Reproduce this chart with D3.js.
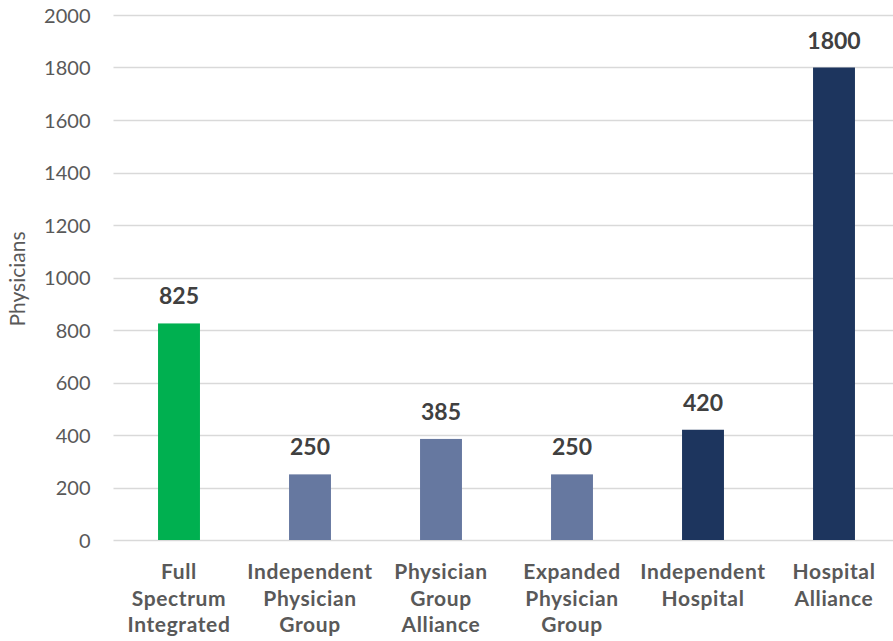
<!DOCTYPE html>
<html>
<head>
<meta charset="utf-8">
<script src="https://cdn.jsdelivr.net/npm/d3@7/dist/d3.min.js"></script>
<style>
  html, body { margin: 0; padding: 0; background: #ffffff; }
  svg { display: block; font-family: Lato, "Open Sans", sans-serif; }
</style>
</head>
<body>
<svg id="chart" width="893" height="641"></svg>
<script>
// Physicians per organisation model
const categories = [
  ["Full", "Spectrum", "Integrated"],
  ["Independent", "Physician", "Group"],
  ["Physician", "Group", "Alliance"],
  ["Expanded", "Physician", "Group"],
  ["Independent", "Hospital"],
  ["Hospital", "Alliance"]
];
const physicians = [825, 250, 385, 250, 420, 1800];
const barColors = ["#00B050", "#6678A0", "#6678A0", "#6678A0", "#1D355E", "#1D355E"];
const yTicks = [0, 200, 400, 600, 800, 1000, 1200, 1400, 1600, 1800, 2000];

const svg = d3.select("#chart");
const plotLeft = 113.5, plotRight = 899.5, plotTop = 15, plotBottom = 540;

const x = d3.scaleBand()
  .domain(d3.range(categories.length))
  .range([plotLeft, plotRight])
  .paddingInner(0.68)
  .paddingOuter(0.34);

const y = d3.scaleLinear().domain([0, 2000]).range([plotBottom, plotTop]);

// gridlines
svg.append("g")
  .selectAll("line")
  .data(yTicks)
  .join("line")
  .attr("x1", plotLeft)
  .attr("x2", plotRight)
  .attr("y1", d => Math.round(y(d)) + 0.5)
  .attr("y2", d => Math.round(y(d)) + 0.5)
  .attr("stroke", "#D9D9D9")
  .attr("stroke-width", 1.5);

// y axis labels
const yAxis = d3.axisLeft(y).tickValues(yTicks).tickFormat(d3.format("d")).tickSize(0).tickPadding(0);
const gy = svg.append("g").attr("transform", `translate(${plotLeft - 23},0)`).call(yAxis);
gy.select(".domain").remove();
gy.selectAll("text")
  .attr("fill", "#595959")
  .style("font-family", "Lato, 'Open Sans', sans-serif")
  .style("font-size", "20px")
  .attr("dy", "0.35em");

// bars
svg.append("g")
  .selectAll("rect")
  .data(physicians)
  .join("rect")
  .attr("x", (d, i) => x(i))
  .attr("width", x.bandwidth())
  .attr("y", d => y(d))
  .attr("height", d => y(0) - y(d))
  .attr("fill", (d, i) => barColors[i]);

// value labels
svg.append("g")
  .selectAll("text")
  .data(physicians)
  .join("text")
  .attr("x", (d, i) => x(i) + x.bandwidth() / 2)
  .attr("y", d => y(d) - 19)
  .attr("text-anchor", "middle")
  .attr("fill", "#404040")
  .style("font-size", "23px")
  .style("font-weight", "bold")
  .text(d => d);

// category labels
const cat = svg.append("g")
  .selectAll("text")
  .data(categories)
  .join("text")
  .attr("text-anchor", "middle")
  .attr("fill", "#595959")
  .style("font-size", "21px")
  .style("font-weight", "bold")
  .style("letter-spacing", "0.6px")
  .attr("transform", (d, i) => `translate(${x(i) + x.bandwidth() / 2},579)`);
cat.selectAll("tspan")
  .data(d => d)
  .join("tspan")
  .attr("x", 0)
  .attr("dy", (d, j) => j === 0 ? 0 : 26.5)
  .text(d => d);

// axis title
svg.append("text")
  .attr("transform", `translate(25,279) rotate(-90)`)
  .attr("text-anchor", "middle")
  .attr("fill", "#595959")
  .style("font-size", "21px")
  .text("Physicians");
</script>
</body>
</html>
